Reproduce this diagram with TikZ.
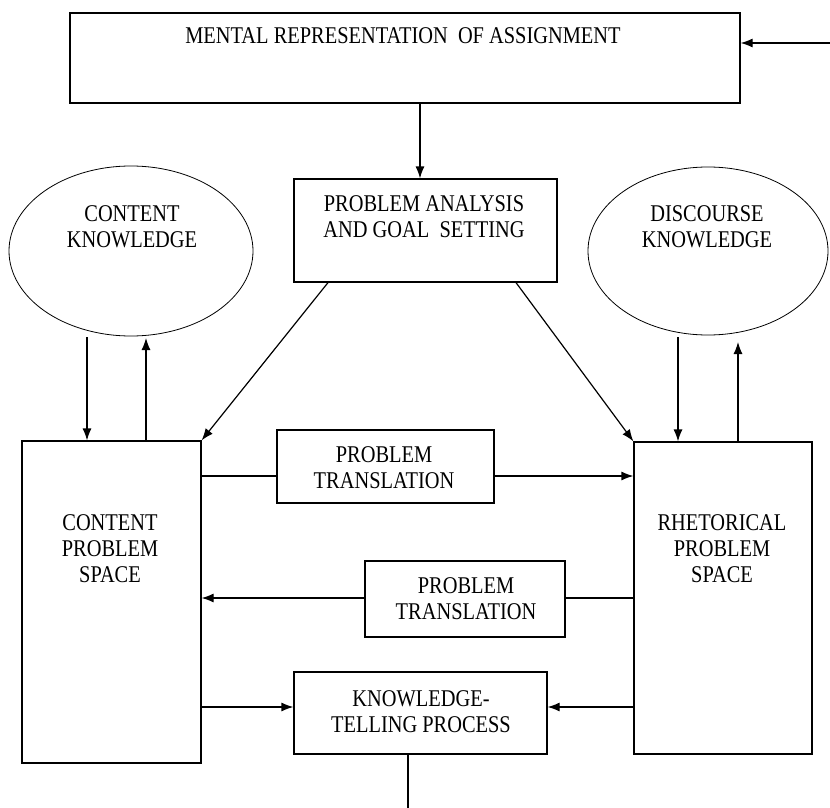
\documentclass[tikz,border=0pt]{standalone}
\usepackage{fontspec}
\setmainfont[FakeStretch=0.85]{Liberation Serif}
\usepackage{tikz}
\usetikzlibrary{shapes.geometric,arrows.meta}

\begin{document}
\begin{tikzpicture}[x=1pt,y=-1pt,line width=1.2pt,
  box/.style={draw,rectangle,inner sep=0pt},
  oval/.style={draw,ellipse,inner sep=0pt,line width=0.8pt},
  txt/.style={align=center,inner sep=0pt,font=\fontsize{24}{26}\selectfont},
  arr/.style={-{Latex[length=12pt,width=9pt]}}]

\useasboundingbox (0,0) rectangle (830,808);

% boxes and ovals
\node[box,minimum width=670pt,minimum height=90pt] (mental) at (405,58) {};
\node[box,minimum width=263pt,minimum height=103pt] (analysis) at (425.5,230.5) {};
\node[oval,minimum width=244pt,minimum height=170pt] (cknow) at (131,251) {};
\node[oval,minimum width=240pt,minimum height=168pt] (dknow) at (708,251) {};
\node[box,minimum width=179pt,minimum height=322pt] (cspace) at (111.5,602) {};
\node[box,minimum width=178pt,minimum height=312pt] (rspace) at (723,598) {};
\node[box,minimum width=217pt,minimum height=73pt] (trans1) at (385.5,466.5) {};
\node[box,minimum width=200pt,minimum height=76pt] (trans2) at (465,599) {};
\node[box,minimum width=253pt,minimum height=82pt] (telling) at (420.5,713) {};

% texts
\node[txt] (mentaltxt) at (403,36) {MENTAL REPRESENTATION\ \ OF ASSIGNMENT};
\node[txt] (analysistxt) at (424,217) {PROBLEM ANALYSIS\\AND GOAL\ \ SETTING};
\node[txt] (cknowtxt) at (132,227) {CONTENT\\KNOWLEDGE};
\node[txt] (dknowtxt) at (707,227) {DISCOURSE\\KNOWLEDGE};
\node[txt] (cspacetxt) at (110,549) {CONTENT\\PROBLEM\\SPACE};
\node[txt] (rspacetxt) at (722,549) {RHETORICAL\\PROBLEM\\SPACE};
\node[txt] (trans1txt) at (384,468) {PROBLEM\\TRANSLATION};
\node[txt] (trans2txt) at (466,599) {PROBLEM\\TRANSLATION};
\node[txt] (tellingtxt) at (421,712) {KNOWLEDGE-\\TELLING PROCESS};

% free ends
\coordinate (feed) at (830,43);
\coordinate (out) at (408,808);
\coordinate (ra) at (0,476);
\coordinate (rb) at (0,598);
\coordinate (rc) at (0,707);

% connectors
\draw[arr] (feed) -- (mental.east |- feed);
\draw[arr] (mental.south -| 420,0) -- (analysis.north -| 420,0);
\draw[arr] (87,337) -- (cspace.north -| 87,0);
\draw[arr] (cspace.north -| 146,0) -- (146,338);
\draw[arr] (678,337) -- (rspace.north -| 678,0);
\draw[arr] (rspace.north -| 738,0) -- (738,342);
\draw[arr] (analysis.south -| 328,0) -- (cspace.north east);
\draw[arr] (analysis.south -| 516,0) -- (rspace.north west);
\draw (cspace.east |- ra) -- (trans1.west |- ra);
\draw[arr] (trans1.east |- ra) -- (rspace.west |- ra);
\draw (rspace.west |- rb) -- (trans2.east |- rb);
\draw[arr] (trans2.west |- rb) -- (cspace.east |- rb);
\draw[arr] (cspace.east |- rc) -- (telling.west |- rc);
\draw[arr] (rspace.west |- rc) -- (telling.east |- rc);
\draw (telling.south -| out) -- (out);

\end{tikzpicture}
\end{document}
